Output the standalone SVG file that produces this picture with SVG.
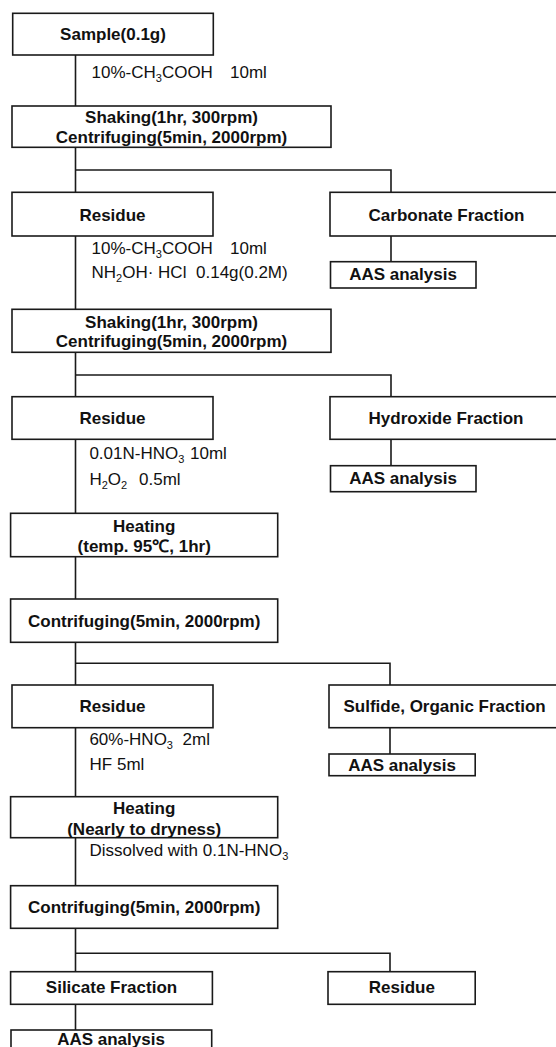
<svg xmlns="http://www.w3.org/2000/svg" width="556" height="1047" viewBox="0 0 556 1047">
<style>
.box{fill:#fff;stroke:#1a1a1a;stroke-width:1.6}
.ln{fill:none;stroke:#1a1a1a;stroke-width:1.6}
.b{font-family:"Liberation Sans",Arial,sans-serif;font-weight:bold;font-size:17px;fill:#111;text-anchor:middle}
.r{font-family:"Liberation Sans",Arial,"Noto Sans CJK KR",sans-serif;font-size:17px;fill:#111}
.s{font-size:11px}
</style>
<rect width="556" height="1047" fill="#fff"/>
<g id="connectors">
<path class="ln" d="M75.5 55V106M75.5 147.3V192.3M75.5 170H391V192.3M391 236V261.7M75.5 236V309.3M75.5 352.3V396.7M75.5 375H391V396.7M391 439.3V465.7M75.5 439.3V513.3M75.5 556.7V599M75.5 642.3V685M75.5 663.3H390V685M390 727.7V754M75.5 727.7V796.7M75.5 837.7V885.7M75.5 928.3V971.7M75.5 953.3H390V971.7M75.5 1004.3V1030"/>
</g>
<g id="reagents">
<text class="r" x="91.5" y="78">10%-CH<tspan class="s" dy="4">3</tspan><tspan dy="-4">COOH</tspan></text>
<text class="r" x="230" y="78">10ml</text>
<text class="r" x="91.5" y="254">10%-CH<tspan class="s" dy="4">3</tspan><tspan dy="-4">COOH</tspan></text>
<text class="r" x="230" y="254">10ml</text>
<text class="r" x="91.5" y="277.7">NH<tspan class="s" dy="4">2</tspan><tspan dy="-4">OH· HCl</tspan></text>
<text class="r" x="196" y="277.7">0.14g(0.2M)</text>
<text class="r" x="89.4" y="459">0.01N-HNO<tspan class="s" dy="4">3</tspan><tspan dy="-4" x="190">10ml</tspan></text>
<text class="r" x="89.4" y="485">H<tspan class="s" dy="4">2</tspan><tspan dy="-4">O</tspan><tspan class="s" dy="4">2</tspan><tspan dy="-4" x="139">0.5ml</tspan></text>
<text class="r" x="89.4" y="745">60%-HNO<tspan class="s" dy="4">3</tspan><tspan dy="-4" x="182.6">2ml</tspan></text>
<text class="r" x="89.4" y="770">HF<tspan x="117">5ml</tspan></text>
<text class="r" x="89.4" y="855.7">Dissolved with 0.1N-HNO<tspan class="s" dy="4">3</tspan></text>
</g>
<g id="sample"><rect class="box" x="12.7" y="13.3" width="200.6" height="41.7"/><text class="b" x="113" y="40">Sample(0.1g)</text></g>
<g id="shaking1"><rect class="box" x="12" y="106" width="319" height="41.3"/><text class="b" x="171.5" y="122.5">Shaking(1hr, 300rpm)</text><text class="b" x="171.5" y="142.7">Centrifuging(5min, 2000rpm)</text></g>
<g id="residue1"><rect class="box" x="12" y="192.3" width="201" height="43.7"/><text class="b" x="112.5" y="220.7">Residue</text></g>
<g id="carbonate"><rect class="box" x="330" y="192.3" width="240" height="43.7"/><text class="b" x="446.5" y="220.7">Carbonate Fraction</text></g>
<g id="aas1"><rect class="box" x="330.5" y="261.7" width="145.5" height="26.3"/><text class="b" x="403" y="280">AAS analysis</text></g>
<g id="shaking2"><rect class="box" x="12" y="309.3" width="319" height="43"/><text class="b" x="171.5" y="327.7">Shaking(1hr, 300rpm)</text><text class="b" x="171.5" y="346.7">Centrifuging(5min, 2000rpm)</text></g>
<g id="residue2"><rect class="box" x="12" y="396.7" width="201" height="42.6"/><text class="b" x="112.5" y="424.3">Residue</text></g>
<g id="hydroxide"><rect class="box" x="330" y="396.7" width="240" height="42.6"/><text class="b" x="446" y="424.3">Hydroxide Fraction</text></g>
<g id="aas2"><rect class="box" x="330.5" y="465.7" width="145.5" height="26"/><text class="b" x="403" y="483.5">AAS analysis</text></g>
<g id="heating1"><rect class="box" x="10.6" y="513.3" width="267.1" height="43.4"/><text class="b" x="144.2" y="531.7">Heating</text><text class="b" x="144.2" y="551.7">(temp. 95℃, 1hr)</text></g>
<g id="contrifuging1"><rect class="box" x="10.6" y="599" width="267.1" height="43.3"/><text class="b" x="144.2" y="626.7">Contrifuging(5min, 2000rpm)</text></g>
<g id="residue3"><rect class="box" x="12" y="685" width="201" height="42.7"/><text class="b" x="112.5" y="712.3">Residue</text></g>
<g id="sulfide"><rect class="box" x="329" y="685" width="241" height="42.7"/><text class="b" x="444.6" y="712.3">Sulfide, Organic Fraction</text></g>
<g id="aas3"><rect class="box" x="329" y="754" width="146.2" height="21.7"/><text class="b" x="402" y="770.7">AAS analysis</text></g>
<g id="heating2"><rect class="box" x="10.6" y="796.7" width="267.1" height="41"/><text class="b" x="144.2" y="814.3">Heating</text><text class="b" x="144.2" y="835">(Nearly to dryness)</text></g>
<g id="contrifuging2"><rect class="box" x="10.6" y="885.7" width="267.1" height="42.6"/><text class="b" x="144.2" y="913.3">Contrifuging(5min, 2000rpm)</text></g>
<g id="silicate"><rect class="box" x="10.6" y="971.7" width="201.8" height="32.6"/><text class="b" x="111.5" y="993.3">Silicate Fraction</text></g>
<g id="residue4"><rect class="box" x="328" y="971.7" width="147.2" height="32.6"/><text class="b" x="401.8" y="993.3">Residue</text></g>
<g id="aas4"><rect class="box" x="11" y="1030" width="200.7" height="30"/><text class="b" x="111" y="1045">AAS analysis</text></g>
</svg>
